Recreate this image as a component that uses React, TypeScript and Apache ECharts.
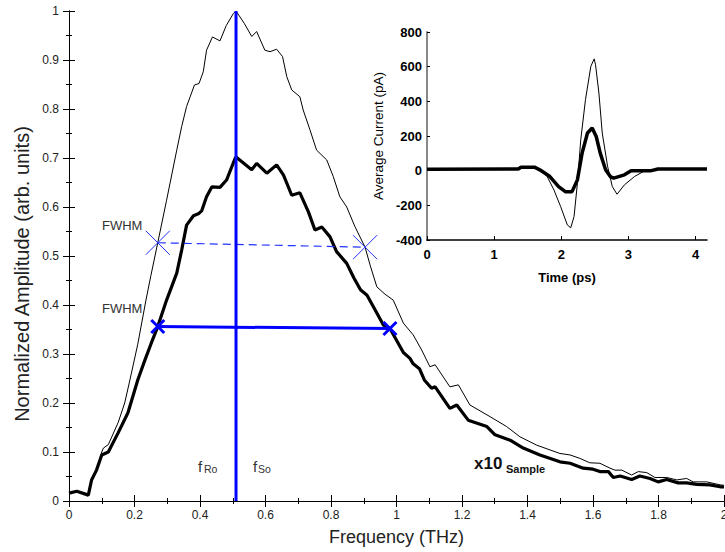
import React, { useEffect, useRef } from "react";
import * as echarts from "echarts";

const FONT = '"Liberation Sans", Arial, Helvetica, sans-serif';

// Main spectrum: thin curve (x10 reference trace)
const thinFreq = [0.0, 0.024, 0.059, 0.069, 0.084, 0.1, 0.105, 0.12, 0.15, 0.17, 0.186, 0.21, 0.235, 0.25, 0.271, 0.298, 0.329, 0.344, 0.359, 0.37, 0.383, 0.397, 0.41, 0.42, 0.438, 0.461, 0.48, 0.502, 0.51, 0.535, 0.558, 0.573, 0.598, 0.614, 0.634, 0.652, 0.665, 0.68, 0.705, 0.715, 0.736, 0.756, 0.787, 0.807, 0.827, 0.848, 0.873, 0.904, 0.92, 0.94, 0.965, 0.99, 1.021, 1.051, 1.077, 1.102, 1.118, 1.163, 1.189, 1.224, 1.286, 1.336, 1.377, 1.428, 1.499, 1.53, 1.56, 1.59, 1.621, 1.652, 1.667, 1.688, 1.718, 1.738, 1.764, 1.789, 1.825, 1.856, 1.886, 1.906, 1.947, 1.988, 2.0];
const thinAmp = [0.016, 0.02, 0.014, 0.045, 0.065, 0.1, 0.108, 0.115, 0.16, 0.2, 0.247, 0.32, 0.41, 0.46, 0.527, 0.614, 0.716, 0.764, 0.805, 0.825, 0.849, 0.852, 0.876, 0.92, 0.947, 0.939, 0.97, 0.995, 1.0, 0.975, 0.948, 0.958, 0.92, 0.917, 0.922, 0.907, 0.866, 0.839, 0.825, 0.798, 0.757, 0.716, 0.696, 0.662, 0.621, 0.6, 0.56, 0.518, 0.48, 0.437, 0.422, 0.41, 0.363, 0.339, 0.308, 0.274, 0.278, 0.233, 0.237, 0.196, 0.172, 0.152, 0.131, 0.114, 0.097, 0.094, 0.087, 0.078, 0.077, 0.067, 0.063, 0.063, 0.053, 0.06, 0.058, 0.048, 0.048, 0.043, 0.046, 0.039, 0.039, 0.033, 0.032];

// Main spectrum: thick curve (sample trace)
const thickFreq = [0.0, 0.024, 0.059, 0.069, 0.084, 0.1, 0.12, 0.15, 0.18, 0.21, 0.232, 0.25, 0.271, 0.298, 0.329, 0.344, 0.359, 0.38, 0.395, 0.405, 0.42, 0.436, 0.461, 0.481, 0.507, 0.51, 0.558, 0.573, 0.604, 0.634, 0.655, 0.68, 0.705, 0.731, 0.751, 0.772, 0.797, 0.817, 0.848, 0.87, 0.89, 0.91, 0.929, 0.96, 0.98, 1.021, 1.041, 1.051, 1.07, 1.085, 1.107, 1.118, 1.163, 1.184, 1.219, 1.276, 1.301, 1.347, 1.387, 1.438, 1.499, 1.53, 1.57, 1.6, 1.621, 1.647, 1.662, 1.683, 1.718, 1.743, 1.774, 1.799, 1.825, 1.86, 1.886, 1.916, 1.957, 1.988, 2.0];
const thickAmp = [0.016, 0.02, 0.012, 0.043, 0.063, 0.094, 0.1, 0.139, 0.18, 0.247, 0.288, 0.32, 0.356, 0.41, 0.465, 0.512, 0.563, 0.582, 0.586, 0.592, 0.621, 0.641, 0.64, 0.655, 0.699, 0.702, 0.676, 0.689, 0.669, 0.686, 0.665, 0.624, 0.629, 0.59, 0.553, 0.559, 0.539, 0.509, 0.485, 0.455, 0.431, 0.42, 0.397, 0.359, 0.352, 0.303, 0.291, 0.28, 0.27, 0.247, 0.23, 0.233, 0.189, 0.196, 0.165, 0.152, 0.135, 0.124, 0.108, 0.094, 0.08, 0.077, 0.067, 0.065, 0.06, 0.06, 0.048, 0.051, 0.044, 0.051, 0.046, 0.039, 0.044, 0.037, 0.037, 0.034, 0.033, 0.029, 0.029];

// FWHM markers
const fwhmThinFreq = [0.271, 0.904];
const fwhmThinAmp = [0.527, 0.518];
const fwhmThickFreq = [0.271, 0.98];
const fwhmThickAmp = [0.356, 0.352];
const peakFreq = [0.51, 0.51];
const peakAmp = [0, 1];

// Inset: time-domain traces
const insetThinTime = [0, 1.34, 1.38, 1.56, 1.66, 1.72, 1.79, 1.89, 1.99, 2.09, 2.14, 2.19, 2.24, 2.29, 2.36, 2.44, 2.49, 2.51, 2.56, 2.61, 2.69, 2.76, 2.83, 2.94, 3.09, 3.24, 3.44, 4.17];
const insetThinCurrent = [8, 12, 22, 22, 10, -5, -34, -111, -207, -313, -330, -265, -72, 178, 409, 602, 645, 611, 448, 217, 24, -92, -136, -82, -34, -1, 10, 10];
const insetThickTime = [0, 1.36, 1.4, 1.6, 1.68, 1.83, 1.96, 2.06, 2.16, 2.24, 2.31, 2.39, 2.46, 2.52, 2.58, 2.66, 2.73, 2.78, 2.94, 3.04, 3.34, 3.44, 4.17];
const insetThickCurrent = [8, 10, 20, 20, 5, -34, -92, -121, -121, -53, 101, 217, 246, 197, 101, 5, -34, -43, -24, 0, 0, 10, 10];

const insetTimeTicks = [0, 1, 2, 3, 4];

const zip = (a: number[], b: number[]) => a.map((v, i) => [v, b[i]]);

const X_PATH = "path://M0,0L10,10M10,0L0,10";

export default function App() {
  const ref = useRef<HTMLDivElement>(null);

  useEffect(() => {
    if (!ref.current) return;
    const chart = echarts.init(ref.current, undefined, { renderer: "svg" });

    const mainX = {
      type: "value",
      min: 0,
      max: 2,
      interval: 0.2,
      splitLine: { show: false },
      axisLine: { lineStyle: { color: "#000", width: 1 } },
      axisTick: { inside: true, length: 6, lineStyle: { color: "#000" } },
      minorTick: { show: true, splitNumber: 2, length: 3, lineStyle: { color: "#000" } },
    };
    const mainY = {
      type: "value",
      min: 0,
      max: 1,
      interval: 0.1,
      splitLine: { show: false },
      axisLine: { show: true, lineStyle: { color: "#000", width: 1 } },
      axisTick: { show: true, inside: true, length: 6, lineStyle: { color: "#000" } },
      minorTick: { show: true, splitNumber: 2, length: 3, lineStyle: { color: "#000" } },
    };

    const text = (
      x: number,
      y: number,
      t: string,
      size: number,
      weight = "normal",
      color = "#333",
      align = "left",
      rotation = 0
    ) => ({
      type: "text",
      x,
      y,
      rotation,
      silent: true,
      style: {
        text: t,
        fontSize: size,
        fontFamily: FONT,
        fontWeight: weight,
        fill: color,
        align,
        verticalAlign: "middle",
      },
    });

    const option: any = {
      animation: false,
      textStyle: { fontFamily: FONT },
      grid: [
        { left: 69, right: 1, top: 11, bottom: 51, outerBoundsMode: "none", containLabel: false },
        { left: 427, right: 18, top: 32, bottom: 312, outerBoundsMode: "none", containLabel: false },
      ],
      xAxis: [
        {
          ...mainX,
          gridIndex: 0,
          position: "bottom",
          name: "Frequency (THz)",
          nameLocation: "middle",
          nameGap: 27,
          nameTextStyle: { fontSize: 18, color: "#222", verticalAlign: "top" },
          axisLabel: { fontSize: 12, color: "#222", margin: 8 },
        },
        {
          ...mainX,
          gridIndex: 0,
          position: "top",
          axisLabel: { show: false },
        },
        {
          type: "value",
          gridIndex: 1,
          min: 0,
          max: 4.17,
          splitLine: { show: false },
          axisLine: { onZero: false, lineStyle: { color: "#000", width: 1.5 } },
          axisTick: { inside: true, length: 4, customValues: insetTimeTicks, lineStyle: { color: "#000" } },
          axisLabel: { customValues: insetTimeTicks, fontSize: 13, fontWeight: "bold", color: "#000", margin: 8 },
          name: "Time (ps)",
          nameLocation: "middle",
          nameGap: 31,
          nameTextStyle: { fontSize: 13, fontWeight: "bold", color: "#000", verticalAlign: "top" },
        },
      ],
      yAxis: [
        {
          ...mainY,
          gridIndex: 0,
          position: "left",
          axisLabel: { fontSize: 12, color: "#222", margin: 10 },
        },
        {
          ...mainY,
          gridIndex: 0,
          position: "right",
          axisLabel: { show: false },
        },
        {
          type: "value",
          gridIndex: 1,
          min: -400,
          max: 800,
          interval: 200,
          splitLine: { show: false },
          axisLine: { show: true, onZero: false, lineStyle: { color: "#888", width: 2 } },
          axisTick: { show: true, inside: true, length: 3, lineStyle: { color: "#000" } },
          axisLabel: { fontSize: 13, fontWeight: "bold", color: "#000", margin: 5 },
          name: "Average Current (pA)",
          nameLocation: "middle",
          nameGap: 42,
          nameTextStyle: { fontSize: 13.5, color: "#000" },
        },
      ],
      series: [
        {
          type: "line",
          xAxisIndex: 0,
          yAxisIndex: 0,
          data: zip(thinFreq, thinAmp),
          showSymbol: false,
          silent: true,
          lineStyle: { color: "#000", width: 1 },
        },
        {
          type: "line",
          xAxisIndex: 0,
          yAxisIndex: 0,
          data: zip(thickFreq, thickAmp),
          showSymbol: false,
          silent: true,
          lineStyle: { color: "#000", width: 3.2 },
        },
        {
          type: "line",
          xAxisIndex: 0,
          yAxisIndex: 0,
          data: zip(fwhmThinFreq, fwhmThinAmp),
          symbol: X_PATH,
          symbolSize: 24,
          showSymbol: true,
          silent: true,
          lineStyle: { color: "#2233ff", width: 1.2, type: [8, 5] },
          itemStyle: { color: "rgba(0,0,0,0)", borderColor: "#2233ff", borderWidth: 1 },
        },
        {
          type: "line",
          xAxisIndex: 0,
          yAxisIndex: 0,
          data: zip(fwhmThickFreq, fwhmThickAmp),
          symbol: X_PATH,
          symbolSize: 13,
          showSymbol: true,
          silent: true,
          lineStyle: { color: "#0000ff", width: 3 },
          itemStyle: { color: "rgba(0,0,0,0)", borderColor: "#0000ff", borderWidth: 3 },
        },
        {
          type: "line",
          xAxisIndex: 0,
          yAxisIndex: 0,
          data: zip(peakFreq, peakAmp),
          showSymbol: false,
          silent: true,
          lineStyle: { color: "#0000ff", width: 3 },
        },
        {
          type: "line",
          xAxisIndex: 2,
          yAxisIndex: 2,
          data: zip(insetThinTime, insetThinCurrent),
          showSymbol: false,
          silent: true,
          lineStyle: { color: "#000", width: 1 },
        },
        {
          type: "line",
          xAxisIndex: 2,
          yAxisIndex: 2,
          data: zip(insetThickTime, insetThickCurrent),
          showSymbol: false,
          silent: true,
          lineStyle: { color: "#000", width: 3.5 },
        },
      ],
      graphic: [
        text(22, 274, "Normalized Amplitude (arb. units)", 20, "normal", "#222", "center", Math.PI / 2),
        text(102, 225, "FWHM", 13),
        text(102, 308, "FWHM", 13),
        text(198, 466.5, "f", 15),
        text(204, 469, "Ro", 10.5),
        text(253, 466.5, "f", 15),
        text(258, 469, "So", 10.5),
        text(474, 463.5, "x10", 17, "bold", "#111"),
        text(506, 469, "Sample", 11, "bold", "#111"),
      ],
    };

    chart.setOption(option);
    return () => chart.dispose();
  }, []);

  return (
    <div
      ref={ref}
      style={{ position: "absolute", left: 0, top: 0, width: 725, height: 552, background: "#fff" }}
    />
  );
}
